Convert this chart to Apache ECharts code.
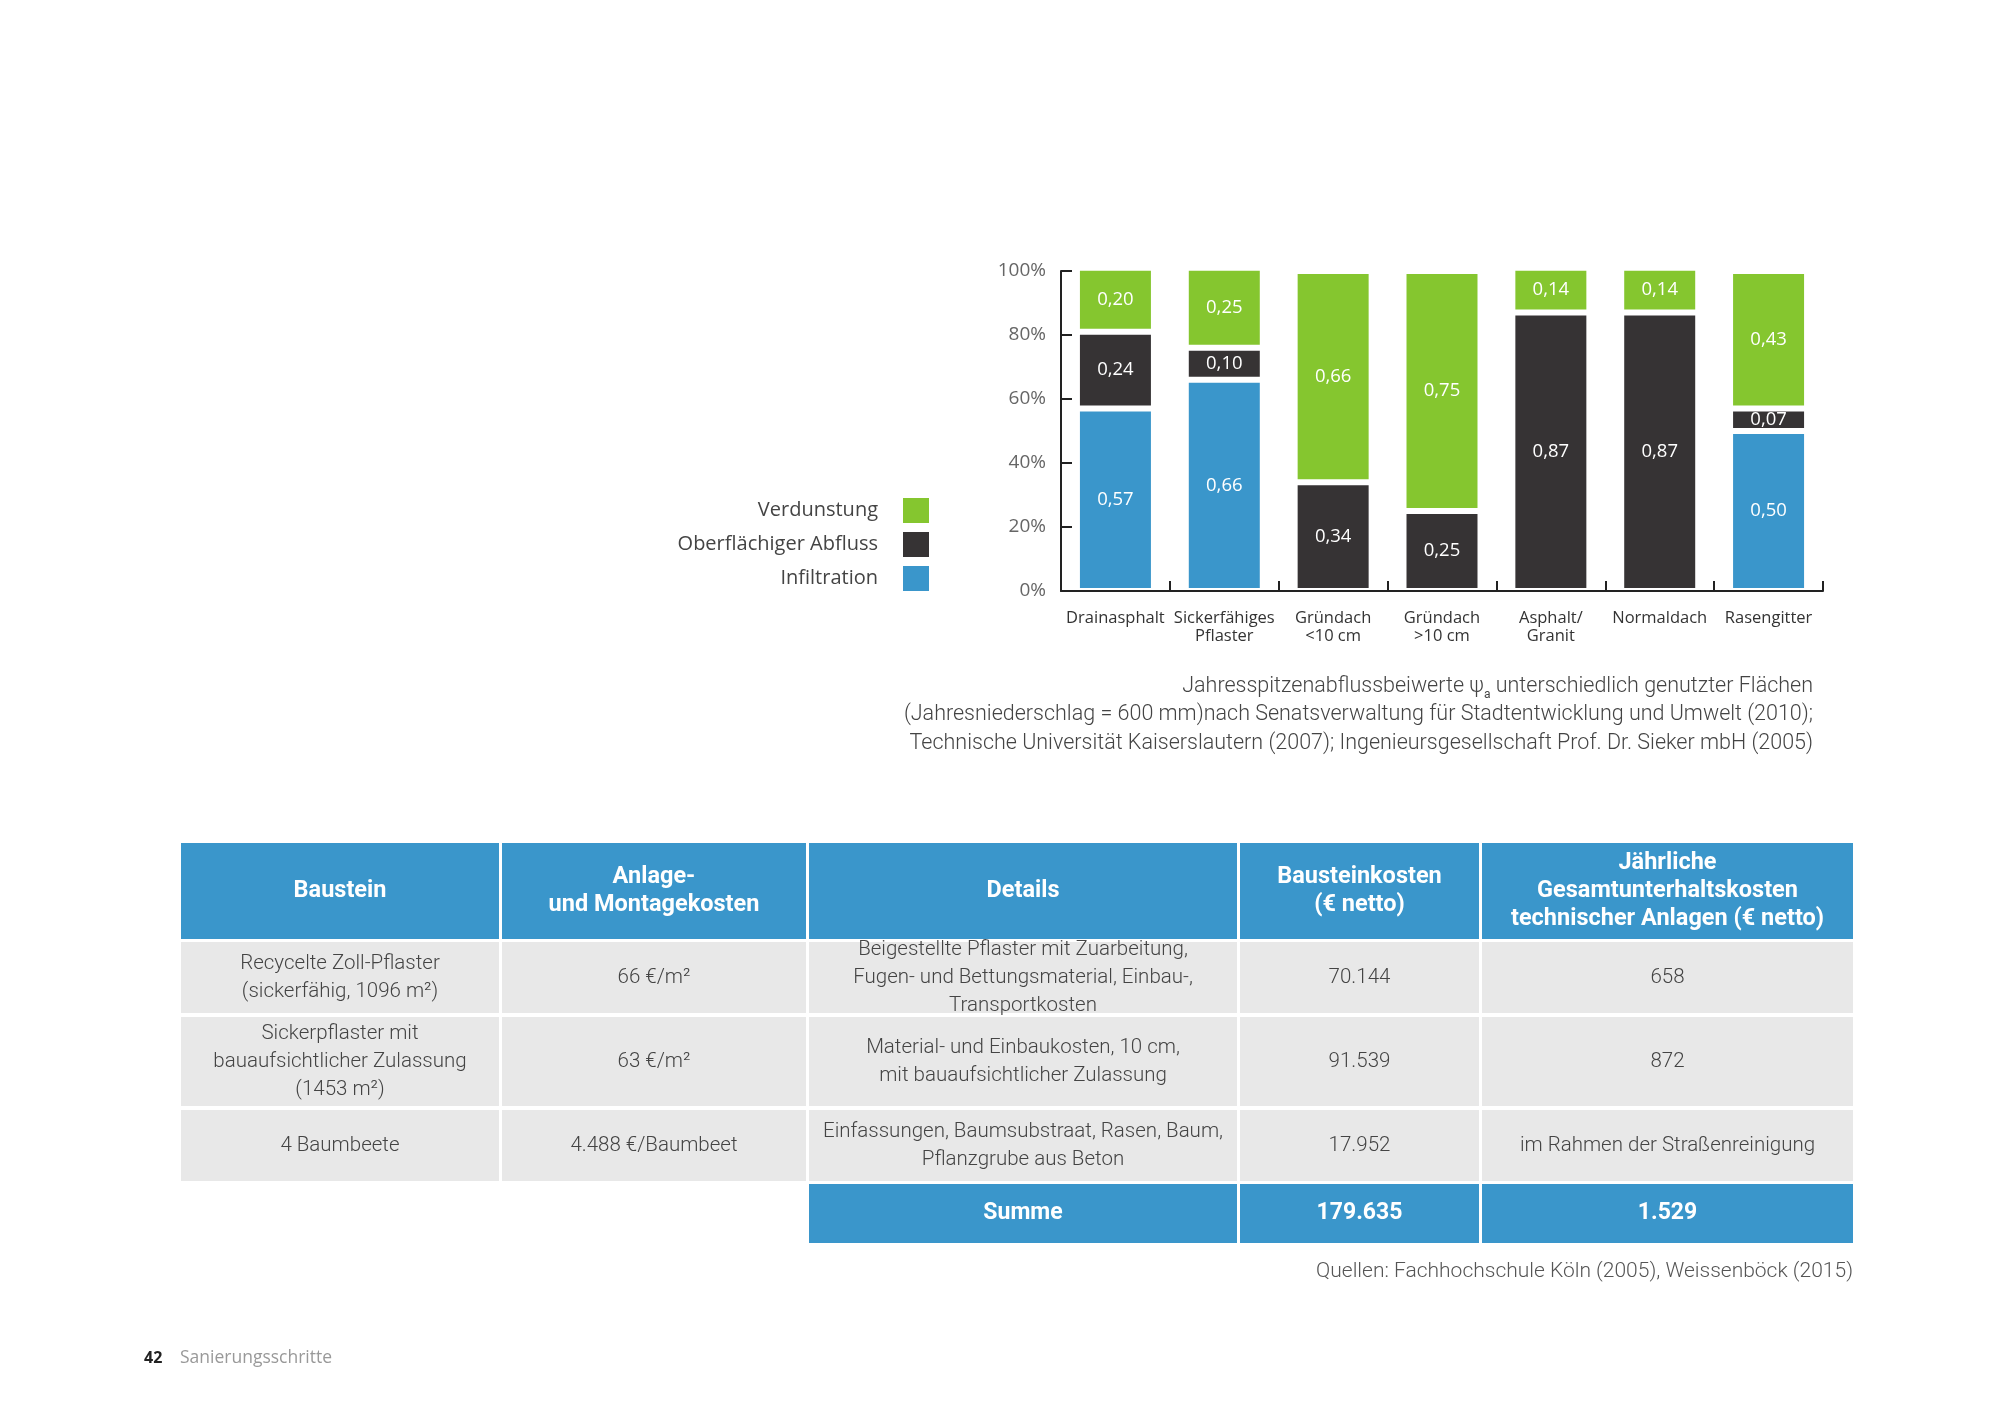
<!DOCTYPE html>
<html>
<head>
<meta charset="utf-8">
<script src="https://cdn.jsdelivr.net/npm/echarts@6/dist/echarts.min.js"></script>
<style>
html,body{margin:0;padding:0;background:#fff;}
#chart{width:2000px;height:1414px;}
</style>
</head>
<body>
<div id="chart"></div>
<script>
// ---------- DATA ----------
const categories = ['Drainasphalt', 'Sickerfähiges\nPflaster', 'Gründach\n<10 cm', 'Gründach\n>10 cm', 'Asphalt/\nGranit', 'Normaldach', 'Rasengitter'];
const infiltration = [0.57, 0.66, null, null, null, null, 0.50];
const abfluss = [0.24, 0.10, 0.34, 0.25, 0.87, 0.87, 0.07];
const verdunstung = [0.20, 0.25, 0.66, 0.75, 0.14, 0.14, 0.43];
const seriesNames = ['Infiltration', 'Oberflächiger Abfluss', 'Verdunstung'];
const legendOrder = ['Verdunstung', 'Oberflächiger Abfluss', 'Infiltration'];
const yTickValues = [0, 0.2, 0.4, 0.6, 0.8, 1.0];

const captionLines = [
  'Jahresspitzenabflussbeiwerte ψ{sub|a} unterschiedlich genutzter Flächen',
  '(Jahresniederschlag = 600 mm)nach Senatsverwaltung für Stadtentwicklung und Umwelt (2010);',
  'Technische Universität Kaiserslautern (2007); Ingenieursgesellschaft Prof. Dr. Sieker mbH (2005)'
];

const tableHeader = ['Baustein', 'Anlage-\nund Montagekosten', 'Details', 'Bausteinkosten\n(€ netto)', 'Jährliche\nGesamtunterhaltskosten\ntechnischer Anlagen (€ netto)'];
const tableRow1 = ['Recycelte Zoll-Pflaster\n(sickerfähig, 1096 m²)', '66 €/m²', 'Beigestellte Pflaster mit Zuarbeitung,\nFugen- und Bettungsmaterial, Einbau-,\nTransportkosten', '70.144', '658'];
const tableRow2 = ['Sickerpflaster mit\nbauaufsichtlicher Zulassung\n(1453 m²)', '63 €/m²', 'Material- und Einbaukosten, 10 cm,\nmit bauaufsichtlicher Zulassung', '91.539', '872'];
const tableRow3 = ['4 Baumbeete', '4.488 €/Baumbeet', 'Einfassungen, Baumsubstraat, Rasen, Baum,\nPflanzgrube aus Beton', '17.952', 'im Rahmen der Straßenreinigung'];
const sumRow = ['Summe', '179.635', '1.529'];
const sourcesText = 'Quellen: Fachhochschule Köln (2005), Weissenböck (2015)';
const pageNumber = '42';
const pageSection = 'Sanierungsschritte';

// ---------- STYLE / LAYOUT ----------
const GREEN = '#85c62f', DARK = '#363334', BLUE = '#3a96cb';
const colors = [BLUE, DARK, GREEN];
const colEdges = [[181, 499], [502, 806], [809, 1237], [1240, 1479], [1482, 1853]];
const rowEdges = [[843, 939], [942, 1013], [1017, 1106], [1110, 1181], [1184, 1243]];
const TABLE_GREY = '#e8e8e8';

const fmt = v => (v == null || isNaN(v)) ? '' : v.toFixed(2).replace('.', ',');

const graphics = [];
function cell(colIdx, rowIdx, fill, text, textStyle) {
  const [x0, x1] = colEdges[colIdx];
  const [y0, y1] = rowEdges[rowIdx];
  graphics.push({ type: 'rect', silent: true, shape: { x: x0, y: y0, width: x1 - x0, height: y1 - y0 }, style: { fill: fill } });
  graphics.push({
    type: 'text', silent: true, x: (x0 + x1) / 2, y: (y0 + y1) / 2,
    style: Object.assign({ text: text, textAlign: 'center', textVerticalAlign: 'middle', align: 'center', verticalAlign: 'middle' }, textStyle)
  });
}
const headStyle = { fill: '#fff', fontFamily: 'Roboto', fontWeight: 'bold', fontSize: 23.5, lineHeight: 28 };
const bodyStyle = { fill: '#444', fontFamily: 'Roboto', fontWeight: 300, fontSize: 20.5, lineHeight: 28 };
const sumStyle = { fill: '#fff', fontFamily: 'Roboto', fontWeight: 'bold', fontSize: 23, lineHeight: 28 };
tableHeader.forEach((t, i) => cell(i, 0, BLUE, t, headStyle));
[tableRow1, tableRow2, tableRow3].forEach((row, r) => row.forEach((t, i) => cell(i, r + 1, TABLE_GREY, t, bodyStyle)));
sumRow.forEach((t, i) => cell(i + 2, 4, BLUE, t, sumStyle));

// caption
graphics.push({
  type: 'text', silent: true, x: 1813, y: 672,
  style: {
    text: captionLines.join('\n'), textAlign: 'right', align: 'right', textVerticalAlign: 'top', verticalAlign: 'top',
    fill: '#444', fontFamily: 'Roboto', fontWeight: 300, fontSize: 21.5, lineHeight: 28.5,
    rich: { sub: { fontSize: 12, fill: '#444', fontFamily: 'Roboto', verticalAlign: 'bottom', lineHeight: 20 } }
  }
});
// sources
graphics.push({
  type: 'text', silent: true, x: 1853, y: 1272,
  style: { text: sourcesText, textAlign: 'right', align: 'right', textVerticalAlign: 'middle', verticalAlign: 'middle', fill: '#555', fontFamily: 'Roboto', fontWeight: 300, fontSize: 21 }
});
// footer
graphics.push({
  type: 'text', silent: true, x: 144, y: 1358,
  style: { text: pageNumber, textVerticalAlign: 'middle', verticalAlign: 'middle', fill: '#222', fontFamily: 'Open Sans', fontWeight: 'bold', fontSize: 16 }
});
graphics.push({
  type: 'text', silent: true, x: 180, y: 1358,
  style: { text: pageSection, textVerticalAlign: 'middle', verticalAlign: 'middle', fill: '#999', fontFamily: 'Open Sans', fontSize: 17.5 }
});

const seriesData = [infiltration, abfluss, verdunstung];
const series = seriesNames.map((name, i) => ({
  name: name,
  type: 'bar',
  stack: 'total',
  barWidth: 77,
  clip: false,
  data: seriesData[i].map(v => v == null ? '-' : v),
  itemStyle: { color: colors[i], borderColor: '#fff', borderWidth: 3 },
  label: {
    show: true, position: 'inside', color: '#fff', fontFamily: 'Open Sans', fontSize: 18.5,
    formatter: p => fmt(p.value)
  },
  emphasis: { disabled: true }
}));

const chart = echarts.init(document.getElementById('chart'), null, { renderer: 'canvas' });
chart.setOption({
  backgroundColor: '#fff',
  animation: false,
  grid: { left: 1061, right: 177, top: 271, bottom: 823, containLabel: false },
  legend: {
    data: legendOrder.map(n => ({ name: n })),
    orient: 'vertical',
    right: 1066,
    top: 493,
    align: 'right',
    icon: 'rect',
    itemWidth: 26,
    itemHeight: 25,
    itemGap: 9,
    selectedMode: false,
    itemStyle: { borderWidth: 0 },
    textStyle: { color: '#444', fontFamily: 'Open Sans', fontSize: 20, padding: [0, 20, 0, 0] }
  },
  xAxis: {
    type: 'category',
    data: categories,
    z: 10,
    axisLine: { lineStyle: { color: '#222', width: 2 } },
    axisTick: { show: true, inside: true, length: 10, lineStyle: { color: '#222', width: 2 } },
    axisLabel: { color: '#333', fontFamily: 'Open Sans', fontSize: 16.5, lineHeight: 18, margin: 18, interval: 0 },
    splitLine: { show: false }
  },
  yAxis: {
    type: 'value',
    min: yTickValues[0],
    max: yTickValues[yTickValues.length - 1],
    interval: yTickValues[1] - yTickValues[0],
    z: 10,
    axisLine: { show: true, lineStyle: { color: '#222', width: 2 } },
    axisTick: { show: true, inside: true, length: 11, lineStyle: { color: '#222', width: 2 } },
    axisLabel: { color: '#666', fontFamily: 'Open Sans', fontSize: 19, margin: 15, formatter: v => Math.round(v * 100) + '%' },
    splitLine: { show: false }
  },
  series: series,
  graphic: { elements: graphics }
});
</script>
</body>
</html>
